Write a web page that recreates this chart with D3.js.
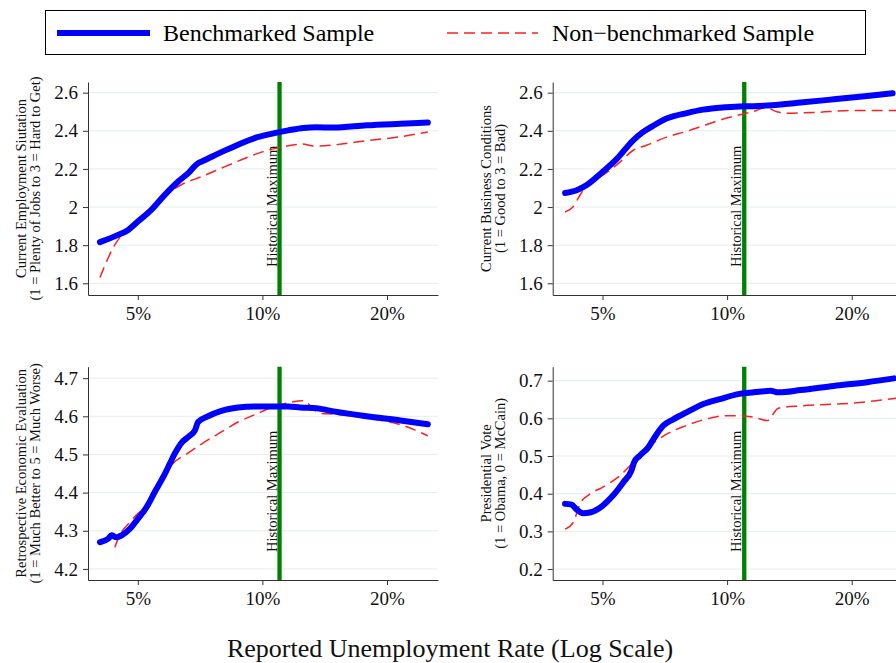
<!DOCTYPE html>
<html>
<head>
<meta charset="utf-8">
<script src="https://cdn.jsdelivr.net/npm/d3@7"></script>
<style>
  body { margin: 0; background: #fff; }
  svg { font-family: "Liberation Serif", "Times New Roman", serif; }
</style>
</head>
<body>
<svg id="chart"></svg>
<script>
// ---- data ----
const xTicks = [5, 10, 20];
const xTickLabels = ["5%", "10%", "20%"];
const historicalMax = 11.0;

const empBenchX = [4.05, 4.48, 4.74, 5.0, 5.39, 5.81, 6.26, 6.62, 6.99, 7.14, 7.96, 8.73, 9.58, 10.5, 11.54, 12.56, 13.5, 14.85, 17.87, 21.56, 25.1];
const empBenchY = [1.816, 1.854, 1.880, 1.924, 1.985, 2.064, 2.134, 2.178, 2.230, 2.239, 2.288, 2.327, 2.362, 2.384, 2.402, 2.415, 2.418, 2.417, 2.429, 2.437, 2.443];
const empNonX = [4.05, 4.48, 4.74, 5.0, 5.39, 5.92, 6.37, 7.14, 7.96, 8.90, 9.95, 11.54, 12.5, 13.3, 14.85, 17.87, 21.56, 25.1];
const empNonY = [1.630, 1.828, 1.875, 1.915, 1.977, 2.073, 2.117, 2.160, 2.204, 2.248, 2.288, 2.321, 2.331, 2.320, 2.326, 2.348, 2.369, 2.394];

const busBenchX = [4.06, 4.33, 4.57, 5.0, 5.40, 5.93, 6.27, 6.66, 7.14, 7.99, 8.76, 9.6, 10.7, 11.6, 12.5, 15.05, 18.1, 21.8, 25.1];
const busBenchY = [2.074, 2.088, 2.114, 2.184, 2.250, 2.350, 2.394, 2.429, 2.464, 2.493, 2.511, 2.521, 2.528, 2.529, 2.533, 2.548, 2.565, 2.583, 2.597];
const busNonX = [4.06, 4.24, 4.41, 4.66, 5.0, 5.51, 5.93, 6.39, 7.14, 7.99, 8.9, 9.98, 11.6, 12.38, 13.2, 13.8, 16.5, 19.9, 25.6];
const busNonY = [1.974, 2.000, 2.062, 2.131, 2.166, 2.236, 2.298, 2.324, 2.367, 2.397, 2.432, 2.467, 2.502, 2.521, 2.500, 2.492, 2.497, 2.506, 2.506];

const retroBenchX = [4.05, 4.24, 4.32, 4.44, 4.57, 4.78, 5.0, 5.25, 5.49, 5.76, 6.0, 6.14, 6.37, 6.62, 6.87, 6.99, 7.39, 7.96, 8.73, 9.58, 11.54, 12.34, 13.5, 14.85, 17.87, 21.56, 25.1];
const retroBenchY = [4.270, 4.279, 4.288, 4.283, 4.288, 4.305, 4.331, 4.362, 4.401, 4.441, 4.480, 4.502, 4.530, 4.546, 4.563, 4.585, 4.600, 4.614, 4.623, 4.626, 4.626, 4.623, 4.621, 4.613, 4.600, 4.589, 4.579];
const retroNonX = [4.40, 4.52, 4.74, 5.0, 5.25, 5.60, 6.0, 6.62, 7.14, 7.96, 8.73, 9.58, 10.7, 11.54, 12.5, 13.8, 14.85, 17.87, 21.56, 25.1];
const retroNonY = [4.257, 4.288, 4.318, 4.345, 4.366, 4.410, 4.469, 4.504, 4.528, 4.559, 4.585, 4.604, 4.626, 4.635, 4.641, 4.608, 4.606, 4.595, 4.578, 4.549];

const voteBenchX = [4.06, 4.21, 4.32, 4.49, 4.66, 5.0, 5.30, 5.61, 5.87, 5.96, 6.15, 6.45, 6.64, 7.02, 7.43, 7.98, 8.76, 9.6, 10.7, 11.6, 12.74, 13.3, 15.05, 18.1, 21.8, 25.3];
const voteBenchY = [0.373, 0.371, 0.359, 0.348, 0.350, 0.368, 0.395, 0.430, 0.461, 0.483, 0.501, 0.523, 0.545, 0.581, 0.598, 0.616, 0.638, 0.651, 0.665, 0.669, 0.673, 0.669, 0.675, 0.686, 0.696, 0.706];
const voteNonX = [4.06, 4.25, 4.41, 4.66, 5.0, 5.51, 5.99, 6.51, 7.14, 7.98, 8.9, 9.98, 10.7, 11.6, 12.5, 13.3, 15.05, 19.9, 25.6];
const voteNonY = [0.306, 0.324, 0.373, 0.399, 0.417, 0.448, 0.488, 0.527, 0.558, 0.581, 0.598, 0.607, 0.607, 0.603, 0.594, 0.627, 0.633, 0.640, 0.653];

const panels = [
  { left: 88, top: 82, bottom: 295, yDomain: [1.5386, 2.656], yTicks: [1.6, 1.8, 2.0, 2.2, 2.4, 2.6],
    title: ["Current Employment Siutation", "(1 = Plenty of Jobs to 3 = Hard to Get)"], titleX: [26, 40],
    bench: [empBenchX, empBenchY], non: [empNonX, empNonY] },
  { left: 552.7, top: 82, bottom: 295, yDomain: [1.5386, 2.656], yTicks: [1.6, 1.8, 2.0, 2.2, 2.4, 2.6],
    title: ["Current Business Conditions", "(1 = Good to 3 = Bad)"], titleX: [491, 505],
    bench: [busBenchX, busBenchY], non: [busNonX, busNonY] },
  { left: 88, top: 366.7, bottom: 580, yDomain: [4.171, 4.730], yTicks: [4.2, 4.3, 4.4, 4.5, 4.6, 4.7],
    title: ["Retrospective Economic Evaluation", "(1 = Much Better to 5 = Much Worse)"], titleX: [26, 40],
    bench: [retroBenchX, retroBenchY], non: [retroNonX, retroNonY] },
  { left: 552.7, top: 366.7, bottom: 580, yDomain: [0.171, 0.737], yTicks: [0.2, 0.3, 0.4, 0.5, 0.6, 0.7],
    title: ["Presidential Vote", "(1 = Obama, 0 = McCain)"], titleX: [491, 505],
    bench: [voteBenchX, voteBenchY], non: [voteNonX, voteNonY] }
];

const W = 896, H = 663;
const plotW = 350;
const serif = "'Liberation Serif', 'Times New Roman', serif";
const blue = "#0000ff", red = "#ff2020", green = "#008000";

const svg = d3.select("#chart").attr("width", W).attr("height", H);

// legend
const legend = svg.append("g");
legend.append("rect").attr("x", 45.5).attr("y", 10.5).attr("width", 820).attr("height", 44)
  .attr("fill", "none").attr("stroke", "#000").attr("stroke-width", 1);
legend.append("line").attr("x1", 57).attr("x2", 150).attr("y1", 33).attr("y2", 33)
  .attr("stroke", blue).attr("stroke-width", 6);
legend.append("text").attr("x", 163).attr("y", 41).attr("font-size", 24).text("Benchmarked Sample");
legend.append("line").attr("x1", 447).attr("x2", 538).attr("y1", 33).attr("y2", 33)
  .attr("stroke", red).attr("stroke-width", 1.6).attr("stroke-dasharray", "11,6");
legend.append("text").attr("x", 552).attr("y", 41).attr("font-size", 24).text("Non\u2212benchmarked Sample");

panels.forEach((p) => {
  const x = d3.scaleLog().domain([3.79, 26.56]).range([0, plotW]);
  const y = d3.scaleLinear().domain(p.yDomain).range([p.bottom - p.top, 0]);
  const h = p.bottom - p.top;

  const g = svg.append("g").attr("transform", `translate(${p.left},${p.top})`);

  // grid
  g.append("g")
    .selectAll("line").data(p.yTicks).join("line")
    .attr("x1", 0).attr("x2", plotW)
    .attr("y1", (d) => y(d)).attr("y2", (d) => y(d))
    .attr("stroke", "#e4edef");

  // historical maximum
  g.append("line")
    .attr("x1", x(historicalMax)).attr("x2", x(historicalMax))
    .attr("y1", 0).attr("y2", h)
    .attr("stroke", green).attr("stroke-width", 4.3);
  g.append("text")
    .attr("transform", `translate(${x(historicalMax) - 3},${h - 28}) rotate(-90)`)
    .attr("font-size", 14.5).attr("fill", "#111")
    .text("Historical Maximum");

  const line = d3.line().x((d) => x(d[0])).y((d) => y(d[1])).curve(d3.curveMonotoneX);

  g.append("path")
    .datum(d3.zip(p.non[0], p.non[1]))
    .attr("d", line).attr("fill", "none")
    .attr("stroke", red).attr("stroke-width", 1.5).attr("stroke-dasharray", "11,6");

  g.append("path")
    .datum(d3.zip(p.bench[0], p.bench[1]))
    .attr("d", line).attr("fill", "none")
    .attr("stroke", blue).attr("stroke-width", 6)
    .attr("stroke-linecap", "round").attr("stroke-linejoin", "round");

  // axes
  const yAxisG = g.append("g")
    .call(d3.axisLeft(y).tickValues(p.yTicks).tickSize(5).tickSizeOuter(0).tickPadding(5)
      .tickFormat(d3.format("~g")));
  const xAxisG = g.append("g").attr("transform", `translate(0,${h})`)
    .call(d3.axisBottom(x).tickValues(xTicks).tickSize(5).tickSizeOuter(0).tickPadding(7)
      .tickFormat((d, i) => xTickLabels[i]));
  [yAxisG, xAxisG].forEach((a) => {
    a.attr("font-family", null).attr("font-size", null);
    a.selectAll("path, line").attr("stroke", "#333");
    a.selectAll("text")
      .attr("fill", "#111")
      .style("font-family", serif)
      .style("font-size", "19px");
  });

  // y titles
  const cy = p.top + h / 2;
  p.title.forEach((t, i) => {
    svg.append("text")
      .attr("transform", `translate(${p.titleX[i]},${cy}) rotate(-90)`)
      .attr("text-anchor", "middle").attr("font-size", 14.5).attr("fill", "#111")
      .text(t);
  });
});

// x-axis title
svg.append("text").attr("x", 450).attr("y", 657).attr("text-anchor", "middle")
  .attr("font-size", 26).attr("fill", "#111")
  .text("Reported Unemployment Rate (Log Scale)");
</script>
</body>
</html>
